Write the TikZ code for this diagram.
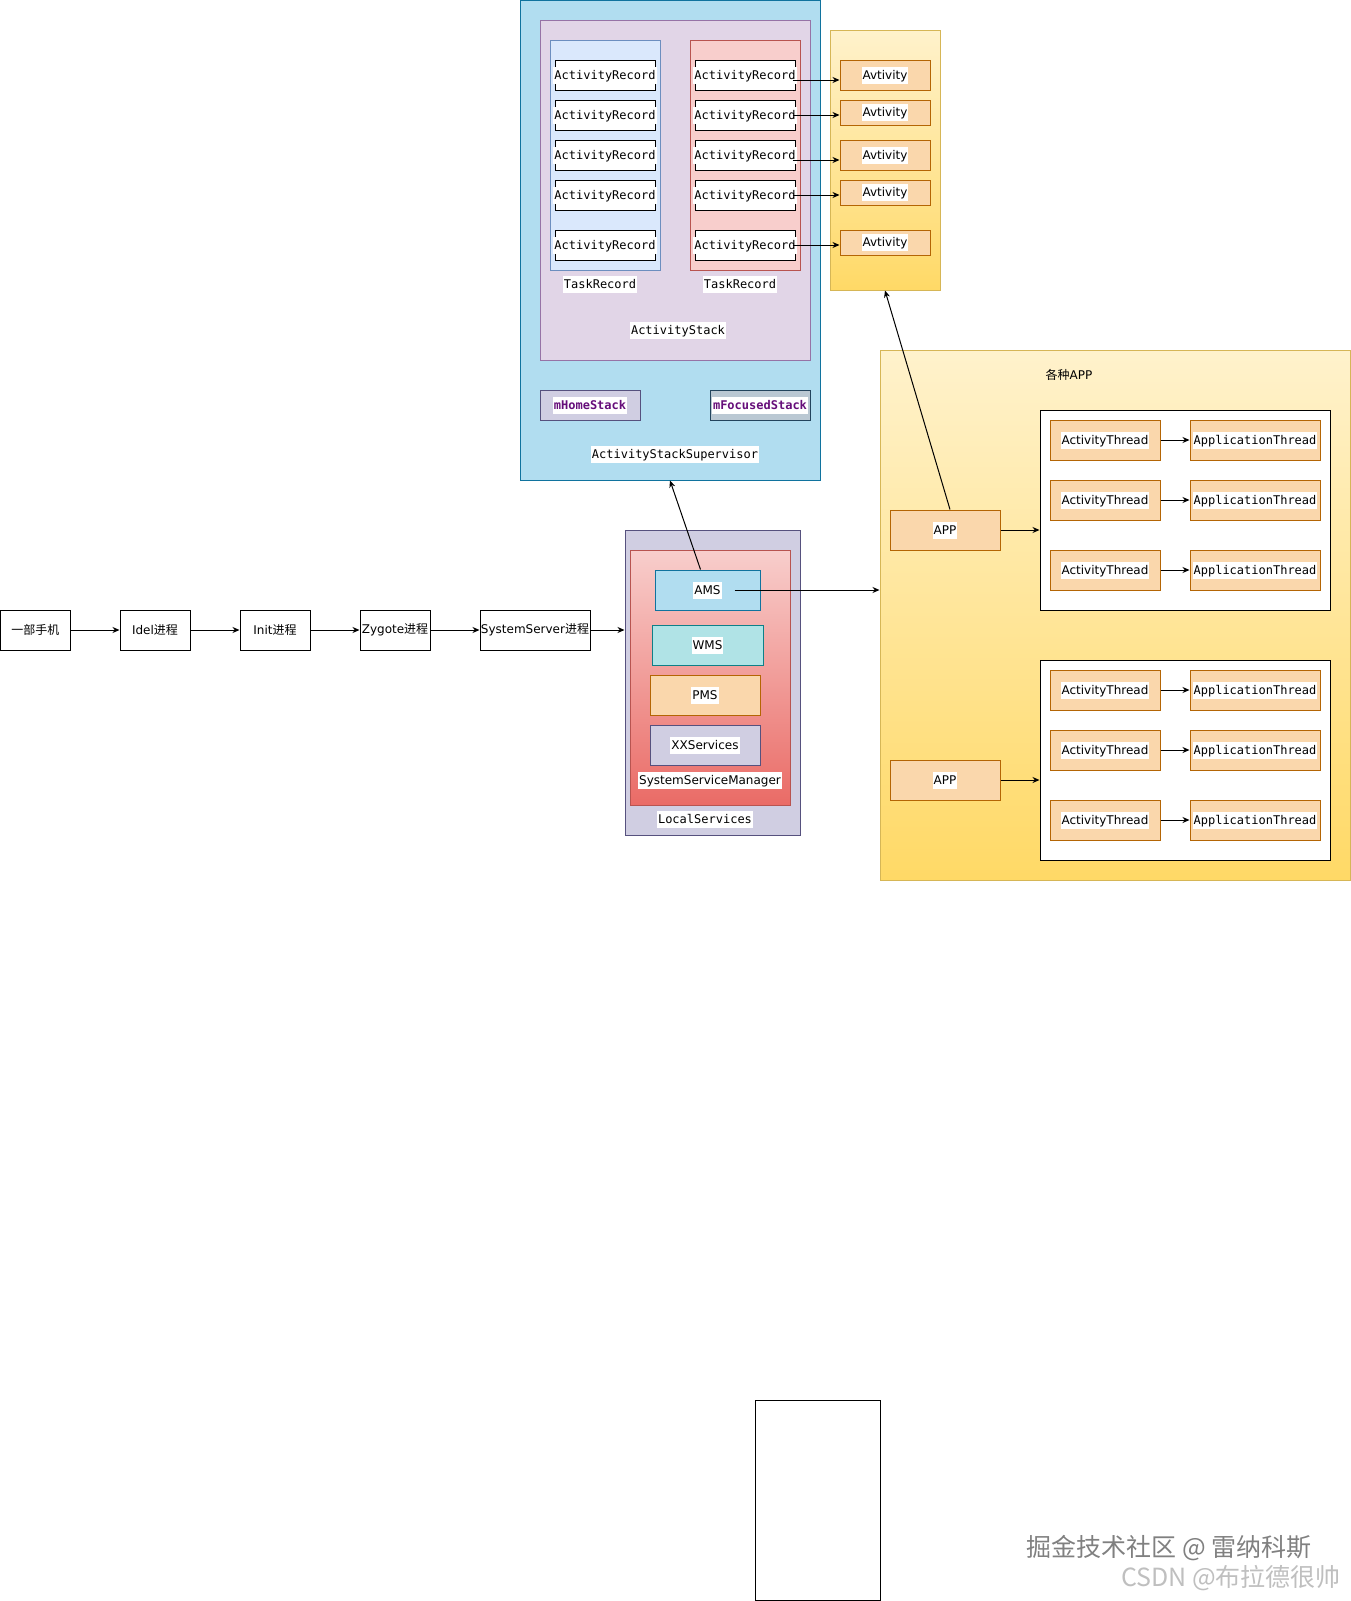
\documentclass[tikz,border=0pt]{standalone}
\usepackage{fontspec}
\setmainfont{DejaVu Sans}
\setmonofont{DejaVu Sans Mono}
\newfontfamily\cjk{Noto Sans CJK SC}
\usetikzlibrary{arrows.meta}
\definecolor{cSup}{HTML}{B1DDF0}\definecolor{cSupL}{HTML}{10739E}
\definecolor{cStk}{HTML}{E1D5E7}\definecolor{cStkL}{HTML}{9673A6}
\definecolor{cTL}{HTML}{DAE8FC}\definecolor{cTLL}{HTML}{6C8EBF}
\definecolor{cTR}{HTML}{F8CECC}\definecolor{cTRL}{HTML}{B85450}
\definecolor{cYa}{HTML}{FFF2CC}\definecolor{cYb}{HTML}{FFD966}\definecolor{cYL}{HTML}{D6B656}
\definecolor{cOr}{HTML}{FAD7AC}\definecolor{cOrL}{HTML}{B46504}
\definecolor{cLav}{HTML}{D0CEE2}\definecolor{cLavL}{HTML}{56517E}
\definecolor{cGray}{HTML}{BAC8D3}\definecolor{cGrayL}{HTML}{23445D}
\definecolor{cRb}{HTML}{EA6B66}
\definecolor{cW}{HTML}{B0E3E6}\definecolor{cWL}{HTML}{0E8088}
\definecolor{cField}{HTML}{660E7A}
\newcommand{\wb}[1]{\makebox[0pt]{\setlength{\fboxsep}{1pt}\colorbox{white}{\rule[-3.2pt]{0pt}{15pt}#1}}}
\begin{document}
\begin{tikzpicture}[x=1pt,y=-1pt,
                    every node/.style={font=\fontsize{12}{14}\selectfont,inner sep=0pt},
                    mono/.style={font=\ttfamily\fontsize{12}{14}\selectfont},
                    box/.style 2 args={draw,line width=1pt,minimum width=#1,minimum height=#2},
                    orange/.style={fill=cOr,draw=cOrL},
                    arec/.style={box={100}{30},fill=white,mono},
                    arr/.style={line width=1pt,-{Stealth[length=7pt,width=6pt]}}]
 \useasboundingbox (0,0) rectangle (1351,1601);
 \node[box={300}{479.5},fill=cSup,draw=cSupL] (sup) at (670,240.25) {};
 \node[box={270}{340},fill=cStk,draw=cStkL] (stk) at (675,190) {};
 \node[box={110}{230},fill=cTL,draw=cTLL] (tl) at (605,155) {};
 \node[box={110}{230},fill=cTR,draw=cTRL] (tr) at (745,155) {};
 \node[arec] (l1) at (605,75) {\wb{ActivityRecord}}; \node[arec] (r1) at (745,75) {\wb{ActivityRecord}};
 \node[arec] (l2) at (605,115) {\wb{ActivityRecord}}; \node[arec] (r2) at (745,115) {\wb{ActivityRecord}};
 \node[arec] (l3) at (605,155) {\wb{ActivityRecord}}; \node[arec] (r3) at (745,155) {\wb{ActivityRecord}};
 \node[arec] (l4) at (605,195) {\wb{ActivityRecord}}; \node[arec] (r4) at (745,195) {\wb{ActivityRecord}};
 \node[arec] (l5) at (605,245) {\wb{ActivityRecord}}; \node[arec] (r5) at (745,245) {\wb{ActivityRecord}};
 \node[mono] (tlLbl) at (600,284) {\wb{TaskRecord}};
 \node[mono] (trLbl) at (740,284) {\wb{TaskRecord}};
 \node[mono] (stkLbl) at (678,330) {\wb{ActivityStack}};
 \node[box={100}{30},fill=cLav,draw=cLavL,mono] (home) at (590,405) {\wb{\bfseries\color{cField}mHomeStack}};
 \node[box={100}{30},fill=cGray,draw=cGrayL,mono] (foc) at (760,405) {\wb{\bfseries\color{cField}mFocusedStack}};
 \node[mono] (supLbl) at (675,454) {\wb{ActivityStackSupervisor}};
 \node[box={110}{260},top color=cYa,bottom color=cYb,draw=cYL] (acts) at (885,160) {};
 \node[orange,box={90}{30}] (a1) at (885,75) {\wb{Avtivity}};
 \node[orange,box={90}{25}] (a2) at (885,112.5) {\wb{Avtivity}};
 \node[orange,box={90}{30}] (a3) at (885,155) {\wb{Avtivity}};
 \node[orange,box={90}{25}] (a4) at (885,192.5) {\wb{Avtivity}};
 \node[orange,box={90}{25}] (a5) at (885,242.5) {\wb{Avtivity}};
 \draw[arr] ([xshift=-3pt,yshift=-5pt]r1.east) -- ([yshift=-5pt]r1.east -| a1.west);
 \draw[arr] ([xshift=-3pt]r2.east) -- (r2.east -| a2.west);
 \draw[arr] ([xshift=-3pt,yshift=-5pt]r3.east) -- ([yshift=-5pt]r3.east -| a3.west);
 \draw[arr] ([xshift=-3pt]r4.east) -- (r4.east -| a4.west);
 \draw[arr] ([xshift=-3pt]r5.east) -- (r5.east -| a5.west);
 \node[box={69.5}{40}] (phone) at (35.25,630) {\cjk 一部手机};
 \node[box={70}{40}] (idel) at (155,630) {Idel{\cjk 进程}};
 \node[box={70}{40}] (init) at (275,630) {Init{\cjk 进程}};
 \node[box={70}{40}] (zyg) at (395,630) {Zygote{\cjk 进程}};
 \node[box={110}{40}] (ss) at (535,630) {SystemServer{\cjk 进程}};
 \node[box={175}{305},fill=cLav,draw=cLavL] (loc) at (712.5,682.5) {};
 \node[box={160}{255},top color=cTR,bottom color=cRb,draw=cTRL] (ssm) at (710,677.5) {};
 \node[box={105}{40},fill=cSup,draw=cSupL] (ams) at (707.5,590) {\wb{AMS}};
 \node[box={111}{40},fill=cW,draw=cWL] (wms) at (707.5,645) {\wb{WMS}};
 \node[box={110}{40},orange] (pms) at (705,695) {\wb{PMS}};
 \node[box={110}{40},fill=cLav,draw=cLavL] (xx) at (705,745) {\wb{XXServices}};
 \node (ssmLbl) at (710,780) {\wb{SystemServiceManager}};
 \node[mono] (locLbl) at (705,819) {\wb{LocalServices}};
 \node[box={470}{530},top color=cYa,bottom color=cYb,draw=cYL] (apps) at (1115,615) {};
 \node (appsLbl) at (1069,375) {{\cjk 各种}APP};
 \node[box={110}{40},orange] (app1) at (945,530) {\wb{APP}};
 \node[box={110}{40},orange] (app2) at (945,780) {\wb{APP}};
 \node[box={290}{200},fill=white] (grp1) at (1185,510) {};
 \node[box={290}{200},fill=white] (grp2) at (1185,760) {};
 \node[box={110}{40},orange] (t1) at (1105,440) {\wb{ActivityThread}};
 \node[box={110}{40},orange] (t2) at (1105,500) {\wb{ActivityThread}};
 \node[box={110}{40},orange] (t3) at (1105,570) {\wb{ActivityThread}};
 \node[box={110}{40},orange] (t4) at (1105,690) {\wb{ActivityThread}};
 \node[box={110}{40},orange] (t5) at (1105,750) {\wb{ActivityThread}};
 \node[box={110}{40},orange] (t6) at (1105,820) {\wb{ActivityThread}};
 \node[box={130}{40},orange,mono] (p1) at (1255,440) {\wb{ApplicationThread}};
 \node[box={130}{40},orange,mono] (p2) at (1255,500) {\wb{ApplicationThread}};
 \node[box={130}{40},orange,mono] (p3) at (1255,570) {\wb{ApplicationThread}};
 \node[box={130}{40},orange,mono] (p4) at (1255,690) {\wb{ApplicationThread}};
 \node[box={130}{40},orange,mono] (p5) at (1255,750) {\wb{ApplicationThread}};
 \node[box={130}{40},orange,mono] (p6) at (1255,820) {\wb{ApplicationThread}};
 \draw[arr] (t1) -- (p1); \draw[arr] (t2) -- (p2); \draw[arr] (t3) -- (p3);
 \draw[arr] (t4) -- (p4); \draw[arr] (t5) -- (p5); \draw[arr] (t6) -- (p6);
 \draw[arr] (app1) -- (app1 -| grp1.west);
 \draw[arr] (app2) -- (app2 -| grp2.west);
 \draw[arr] (phone) -- (idel); \draw[arr] (idel) -- (init);
 \draw[arr] (init) -- (zyg); \draw[arr] (zyg) -- (ss);
 \draw[arr] (ss) -- (ss -| loc.west);
 \draw[arr] ([xshift=27pt]ams.center) -- (ams -| apps.west);
 \draw[arr] ([xshift=-7pt]ams.north) -- (sup.south);
 \draw[arr] ([xshift=5pt]app1.north) -- (acts.south);
 \node[box={125}{200}] (dev) at (817.5,1500) {};
 \node[font=\cjk\fontsize{25}{28}\selectfont,text=gray] (wm1) at (1169,1548) {掘金技术社区 @ 雷纳科斯};
 \node[font=\cjk\fontsize{25}{28}\selectfont,text=black!25] (wm2) at (1231,1578) {CSDN @布拉德很帅};
\end{tikzpicture}
\end{document}
